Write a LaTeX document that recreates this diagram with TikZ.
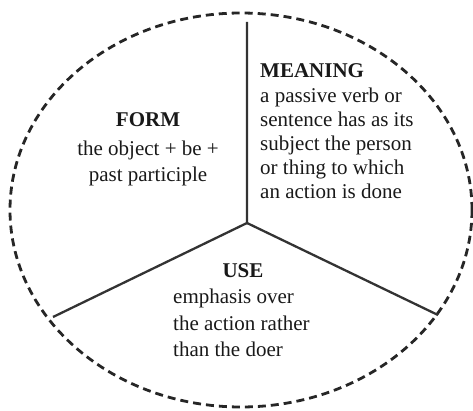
\documentclass[tikz,border=0pt]{standalone}
\usepackage{fontspec}
\setmainfont{Liberation Serif}
\usetikzlibrary{positioning}

\begin{document}
\begin{tikzpicture}[
  x=1pt, y=-1pt,
  rim/.style={draw=black!85, line width=2.8pt, dash pattern=on 8pt off 5pt},
  spoke/.style={draw=black!80, line width=2.3pt},
  title/.style={inner sep=0pt, text=black!90, font=\fontsize{21}{24}\selectfont\bfseries},
  body/.style={inner sep=0pt, text=black!90, font=\fontsize{21}{24}\selectfont}]
\useasboundingbox (0,0) rectangle (473,411);
\draw[rim] (241,210) ellipse [x radius=231pt, y radius=197pt];

\coordinate (hub) at (247,223);
\coordinate (top) at (247,22);
\coordinate (lft) at (53,317);
\coordinate (rgt) at (438,315);
\draw[spoke] (top) -- (hub) -- (lft);
\draw[spoke] (hub) -- (rgt);

\node[title, anchor=base] (formT) at (148,127) {FORM};
\node[body, anchor=north, align=center, font=\fontsize{21}{26}\selectfont] (formB) at (148,141)
  {the object + be +\\past participle};

\node[title, anchor=base west] (meanT) at (260,78) {MEANING};
\node[body, anchor=north west, align=left] (meanB) at (260,88)
  {a passive verb or\\sentence has as its\\subject the person\\or thing to which\\an action is done};

\node[title, anchor=base] (useT) at (243,277) {USE};
\node[body, anchor=north west, align=left, font=\fontsize{21}{26.5}\selectfont] (useB) at (173,289)
  {emphasis over\\the action rather\\than the doer};
\end{tikzpicture}
\end{document}
